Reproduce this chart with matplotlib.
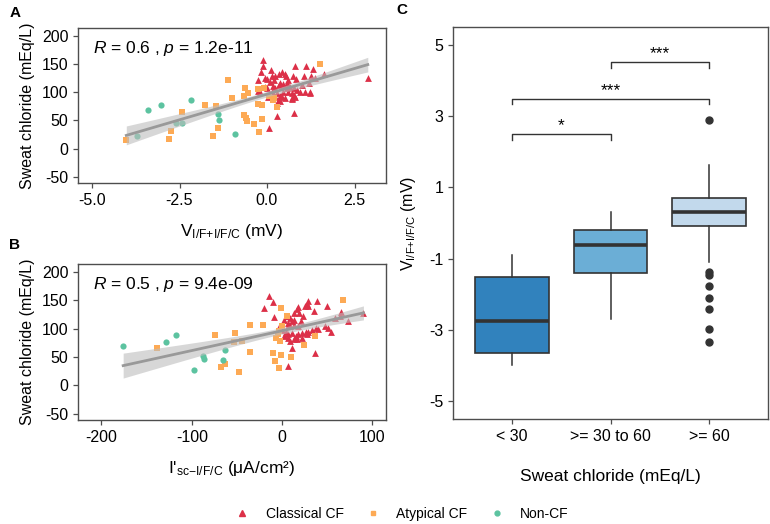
import numpy as np
import matplotlib
matplotlib.use("Agg")
import matplotlib.pyplot as plt
from matplotlib.lines import Line2D

plt.rcParams["font.family"] = "Liberation Sans"
plt.rcParams["mathtext.fontset"] = "custom"
plt.rcParams["mathtext.rm"] = "Liberation Sans"
plt.rcParams["mathtext.it"] = "Liberation Sans:italic"
plt.rcParams["axes.unicode_minus"] = False

# ---- Panel A: V (mV) vs sweat chloride ----
a_classic_x = [-0.11, -0.11, -0.16, 0.11, 0.80, 1.12, 1.30, -0.25, -0.06, 0.01, 0.09, 0.19,
               0.23, 0.33, 0.44, 0.50, 0.53, 0.61, 0.74, 0.83, 1.05, 1.27, 0.16, 0.13, 0.23,
               0.33, 0.37, 0.47, 0.57, 0.66, 0.76, 0.85, 0.95, 1.09, 1.19, 1.24, -0.25, -0.20,
               0.04, 0.23, 0.33, 0.42, 0.52, 0.71, 0.71, 0.76, 0.80, 0.28, 0.37, 0.71, 0.28,
               0.77, 0.07, 2.88, 1.64, 1.24, -0.06, 0.13, 0.28, 0.57, 1.00, 0.00, 0.47, 0.61,
               0.37, 0.19, 1.38]
a_classic_y = [157, 146, 136, 140, 147, 147, 141, 121, 126, 123, 119, 122,
               129, 133, 136, 132, 128, 122, 129, 123, 129, 129, 111, 101, 107,
               113, 117, 115, 116, 110, 107, 104, 101, 100, 116, 101, 103, 100,
               91, 91, 86, 91, 90, 98, 90, 96, 91, 81, 84, 88, 58,
               64, 37, 126, 132, 98, 110, 128, 98, 107, 113, 107, 101, 101,
               93, 96, 125]
a_atyp_x = [-4.02, -2.79, -2.73, -2.44, -1.78, -1.47, -1.55, -1.41, -1.12, -1.01, -0.63, -0.66,
            -0.66, -0.60, -0.57, -0.37, -0.23, -0.14, -0.26, -0.14, -0.26, -0.09, 0.17, 0.29,
            1.52, -0.55, 0.06, 0.20]
a_atyp_y = [16, 17, 31, 65, 77, 75, 23, 37, 122, 89, 108, 94,
            59, 54, 49, 44, 30, 52, 80, 77, 105, 107, 86, 73,
            150, 98, 94, 90]
a_non_x = [-3.71, -3.39, -3.02, -2.59, -2.44, -2.16, -1.41, -1.38, -0.92]
a_non_y = [23, 68, 77, 45, 45, 87, 61, 51, 26]

# ---- Panel B: I'sc (uA/cm2) vs sweat chloride ----
b_classic_x = [-15, -10, -20, -9, -4, 2, 5, 7, 9, 11, 13, 16, 18, 19, 23, 25, 28, 29, 29,
               35, 39, 50, 65, 59, 64, 73, 90, 51, 54, 48, 40, 37, 33, 29, 26, 22, 18, 15,
               11, 7, 4, 0, 13, 17, 22, 28, 11, 36, 7, 6, 9, 13, 7, 18, 2, 6, 9, 13, 21]
b_classic_y = [157, 147, 136, 120, 103, 116, 122, 123, 119, 113, 128, 135, 138, 128, 123,
               140, 144, 149, 140, 132, 149, 140, 129, 119, 122, 114, 128, 101, 95, 104,
               99, 101, 98, 94, 95, 92, 90, 87, 92, 90, 95, 98, 81, 81, 84, 90, 66, 57,
               35, 104, 104, 107, 110, 105, 87, 84, 78, 116, 113]
b_atyp_x = [-139, -74, -68, -63, -52, -53, -44, -36, -36, -21, -48, -10, -8, -3, -1, -2,
            -7, -1, 5, -4, 24, 36, 67, 10, 0, -5]
b_atyp_y = [66, 88, 33, 37, 92, 76, 79, 59, 106, 106, 24, 57, 43, 31, 53, 78,
            84, 137, 122, 96, 72, 87, 151, 50, 105, 90]
b_non_x = [-176, -129, -117, -98, -88, -87, -66, -63]
b_non_y = [69, 77, 89, 27, 51, 46, 45, 63]

# ---- Panel C: boxplot summary by sweat chloride group ----
groups = ["< 30", ">= 30 to 60", ">= 60"]
box_whislo = [-3.99, -2.69, -1.10]
box_q1 = [-3.65, -1.40, -0.09]
box_med = [-2.76, -0.63, 0.30]
box_q3 = [-1.51, -0.19, 0.69]
box_whishi = [-0.90, 0.30, 1.63]
box_fliers = [[], [], [2.88, -1.38, -1.46, -1.76, -2.11, -2.41, -2.98, -3.35]]
box_colors = ["#3182BD", "#6BAED6", "#C2D9EC"]
sig_pairs = [(1, 2), (1, 3), (2, 3)]
sig_heights = [2.49, 3.49, 4.51]
sig_labels = ["*", "***", "***"]

col_classic = "#DC3048"
col_atyp = "#FDAA55"
col_non = "#5CC3A0"
frame_col = "#4D4D4D"
v_label = r"V$_{\mathregular{I/F{+}I/F/C}}$ (mV)"


def style_axes(ax):
    for s in ax.spines.values():
        s.set_color(frame_col)
        s.set_linewidth(1.0)
    ax.tick_params(direction="out", length=3.5, width=0.9, color=frame_col,
                   labelsize=11.5, labelcolor="black")


def lm_band(ax, xs, ys):
    x = np.asarray(xs, float)
    y = np.asarray(ys, float)
    slope, icpt = np.polyfit(x, y, 1)
    n = len(x)
    resid = y - (slope * x + icpt)
    s = np.sqrt(np.sum(resid ** 2) / (n - 2))
    xg = np.linspace(x.min(), x.max(), 80)
    yg = slope * xg + icpt
    se = s * np.sqrt(1 / n + (xg - x.mean()) ** 2 / np.sum((x - x.mean()) ** 2))
    ax.fill_between(xg, yg - 1.98 * se, yg + 1.98 * se, color="#BDBDBD", alpha=0.6,
                    linewidth=0, zorder=3)
    ax.plot(xg, yg, color="#999999", linewidth=2, zorder=4)


def scatter_panel(ax, cx, cy, ax_x, ax_y, nx, ny):
    ax.scatter(cx, cy, marker="^", s=24, color=col_classic, linewidths=0, zorder=2)
    ax.scatter(ax_x, ax_y, marker="s", s=20, color=col_atyp, linewidths=0, zorder=2)
    ax.scatter(nx, ny, marker="o", s=20, color=col_non, linewidths=0, zorder=2)
    lm_band(ax, cx + ax_x + nx, cy + ax_y + ny)
    ax.set_ylim(-61, 214)
    ax.set_yticks([-50, 0, 50, 100, 150, 200])
    ax.set_ylabel("Sweat chloride (mEq/L)", fontsize=11.5, labelpad=5)
    style_axes(ax)


fig = plt.figure(figsize=(7.7, 5.24), dpi=100)

axA = fig.add_axes([78 / 770, 1 - 183 / 524, 308 / 770, 155 / 524])
scatter_panel(axA, a_classic_x, a_classic_y, a_atyp_x, a_atyp_y, a_non_x, a_non_y)
axA.set_xlim(-5.4, 3.4)
axA.set_xticks([-5.0, -2.5, 0.0, 2.5])
axA.set_xticklabels(["-5.0", "-2.5", "0.0", "2.5"])
axA.set_xlabel(v_label, fontsize=12.5, labelpad=10)
axA.text(0.05, 0.87, r"$\it{R}$ = 0.6 , $\it{p}$ = 1.2e-11", transform=axA.transAxes,
         fontsize=12.5, va="center", ha="left")

axB = fig.add_axes([78 / 770, 1 - 420 / 524, 308 / 770, 156 / 524])
scatter_panel(axB, b_classic_x, b_classic_y, b_atyp_x, b_atyp_y, b_non_x, b_non_y)
axB.set_xlim(-226, 115)
axB.set_xticks([-200, -100, 0, 100])
axB.set_xlabel(r"I'$_{\mathregular{sc{-}I/F/C}}$ (μA/cm²)", fontsize=12.5, labelpad=10)
axB.text(0.05, 0.87, r"$\it{R}$ = 0.5 , $\it{p}$ = 9.4e-09", transform=axB.transAxes,
         fontsize=12.5, va="center", ha="left")

axC = fig.add_axes([453 / 770, 1 - 419 / 524, 315 / 770, 392 / 524])
stats = []
for i in range(len(groups)):
    stats.append({"whislo": box_whislo[i], "q1": box_q1[i], "med": box_med[i],
                  "q3": box_q3[i], "whishi": box_whishi[i], "fliers": box_fliers[i]})
bp = axC.bxp(stats, positions=[1, 2, 3], widths=0.75, patch_artist=True, showcaps=False,
             boxprops=dict(edgecolor="#333333", linewidth=1.2),
             medianprops=dict(color="#333333", linewidth=2.6),
             whiskerprops=dict(color="#333333", linewidth=1.1),
             flierprops=dict(marker="o", markersize=5, markerfacecolor="#333333",
                             markeredgecolor="#333333"))
for patch, c in zip(bp["boxes"], box_colors):
    patch.set_facecolor(c)
for (g1, g2), h, lab in zip(sig_pairs, sig_heights, sig_labels):
    axC.plot([g1, g1, g2, g2], [h - 0.16, h, h, h - 0.16], color="#333333", linewidth=1.0)
    axC.text((g1 + g2) / 2, h + 0.02, lab, ha="center", va="bottom", fontsize=12.5)
axC.set_xlim(0.4, 3.6)
axC.set_ylim(-5.5, 5.5)
axC.set_yticks([-5, -3, -1, 1, 3, 5])
axC.set_xticks([1, 2, 3])
axC.set_xticklabels(groups)
axC.set_xlabel("Sweat chloride (mEq/L)", fontsize=12.5, labelpad=18)
axC.set_ylabel(v_label, fontsize=11.5, labelpad=8)
style_axes(axC)

fig.text(15 / 770, 1 - 13 / 524, "A", fontsize=11, fontweight="bold", ha="center", va="center")
fig.text(15 / 770, 1 - 245 / 524, "B", fontsize=11, fontweight="bold", ha="center", va="center")
fig.text(402 / 770, 1 - 10 / 524, "C", fontsize=11, fontweight="bold", ha="center", va="center")

handles = [Line2D([], [], marker="^", linestyle="", color=col_classic, markersize=4),
           Line2D([], [], marker="s", linestyle="", color=col_atyp, markersize=3.5),
           Line2D([], [], marker="o", linestyle="", color=col_non, markersize=3.5)]
fig.legend(handles, ["Classical CF", "Atypical CF", "Non-CF"], loc="center",
           bbox_to_anchor=(402 / 770, 1 - 514 / 524), ncol=3, frameon=False,
           fontsize=10, handlelength=1.0, handletextpad=1.2, columnspacing=1.6)

fig.savefig("out.png", dpi=100)
